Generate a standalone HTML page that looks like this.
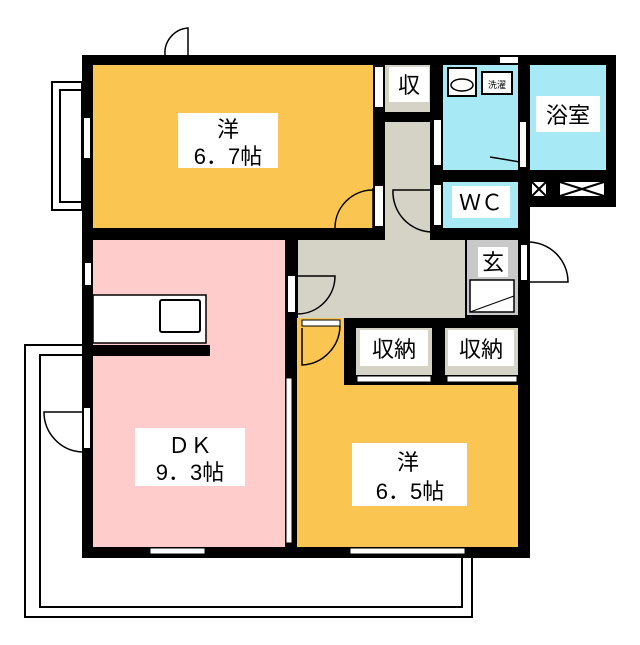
<!DOCTYPE html>
<html><head><meta charset="utf-8"><style>
html,body{margin:0;padding:0;background:#fff}
svg text{font-family:"Liberation Sans","Noto Sans CJK JP",sans-serif;fill:#000}
</style></head><body>
<svg width="640" height="640" viewBox="0 0 640 640" xmlns="http://www.w3.org/2000/svg">
<path d="M82 345 H25 V617 H472 V557" fill="none" stroke="#000" stroke-width="2"/>
<path d="M82 355 H40 V607 H462 V557" fill="none" stroke="#000" stroke-width="2"/>
<rect x="52" y="82" width="30" height="128" fill="#fff" stroke="#000" stroke-width="2"/>
<rect x="60" y="90" width="22" height="112" fill="none" stroke="#000" stroke-width="2"/>
<rect x="82" y="55" width="448" height="503" fill="#000"/>
<rect x="430" y="55" width="186" height="152" fill="#000"/>
<rect x="93" y="65" width="280" height="163" fill="#FBC552"/>
<rect x="385" y="65" width="45" height="47" fill="#D5D2C6"/>
<rect x="443" y="65" width="75" height="105" fill="#A8E9F6"/>
<rect x="530" y="65" width="76" height="105" fill="#A8E9F6"/>
<rect x="443" y="182" width="75" height="46" fill="#A8E9F6"/>
<rect x="385" y="122" width="45" height="118" fill="#D5D2C6"/>
<rect x="298" y="240" width="167" height="78" fill="#D5D2C6"/>
<rect x="467" y="240" width="51" height="75" fill="#C9C9C9"/>
<rect x="93" y="240" width="192" height="307" fill="#FFCCCC"/>
<rect x="297" y="318" width="221" height="229" fill="#FBC552"/>
<rect x="344" y="318" width="174" height="67" fill="#000"/>
<rect x="356" y="328" width="76" height="47" fill="#D5D2C6"/>
<rect x="445" y="328" width="73" height="47" fill="#D5D2C6"/>
<rect x="357" y="376" width="74" height="6" fill="#fff" stroke="#000"/>
<rect x="447" y="376" width="70" height="6" fill="#fff" stroke="#000"/>
<rect x="532" y="182" width="14" height="14" fill="#fff"/><path d="M532 182l14 14M546 182l-14 14" stroke="#000" stroke-width="2"/>
<rect x="560" y="182" width="44" height="14" fill="#fff"/><path d="M560 182l44 14M604 182l-44 14" stroke="#000" stroke-width="2"/>
<rect x="93" y="295" width="113" height="48" fill="#fff" stroke="#000" stroke-width="1.5"/>
<rect x="160" y="300" width="40" height="32" fill="#fff" stroke="#000" stroke-width="2" rx="2"/>
<rect x="93" y="345" width="117" height="11" fill="#000"/>
<rect x="84" y="118" width="6" height="40" fill="#fff"/>
<rect x="85" y="263" width="6" height="22" fill="#fff"/>
<rect x="84" y="408" width="6" height="40" fill="#fff"/>
<rect x="150" y="548" width="55" height="6" fill="#fff" stroke="#000"/>
<rect x="350" y="548" width="115" height="6" fill="#fff" stroke="#000"/>
<rect x="286" y="378" width="6" height="165" fill="#fff" stroke="#000"/>
<rect x="375" y="67" width="8" height="40" fill="#fff"/>
<rect x="375" y="186" width="8" height="40" fill="#fff"/>
<rect x="434" y="120" width="7" height="45" fill="#fff"/>
<rect x="434" y="185" width="7" height="40" fill="#fff"/>
<rect x="520" y="122" width="6" height="45" fill="#fff"/>
<rect x="500" y="57" width="18" height="6" fill="#fff"/>
<rect x="521" y="245" width="6" height="35" fill="#fff"/>
<rect x="288" y="276" width="7" height="36" fill="#fff"/>
<rect x="302" y="320" width="38" height="6" fill="#fff" stroke="#000"/>
<g fill="none" stroke="#000" stroke-width="1.5">
<path d="M188 55 V28 A25 25 0 0 0 165 55"/>
<path d="M373 188 V230 M335 228 A38 38 0 0 1 373 190"/>
<path d="M432 190 H393 A40 40 0 0 0 432 232"/>
<path d="M297 276 H335 A38 38 0 0 1 297 314"/>
<path d="M302 328 V365 A40 40 0 0 0 340 326"/>
<path d="M528 282 H568 A40 40 0 0 0 528 242"/>
<path d="M82 412 H44 A40 40 0 0 0 82 452"/>
<path d="M520 162 l-30 -5"/>
</g>
<rect x="470" y="280" width="44" height="32" fill="#fff" stroke="#000" stroke-width="1.5"/>
<path d="M470 312 L514 296" stroke="#000"/>
<rect x="448" y="68" width="28" height="28" fill="#fff" stroke="#000" stroke-width="2"/>
<ellipse cx="462" cy="85" rx="11" ry="6" fill="none" stroke="#000" stroke-width="1.5"/>
<rect x="482" y="72" width="30" height="22" fill="#fff" stroke="#000" stroke-width="2"/>
<text x="497" y="88" font-size="9" text-anchor="middle">洗濯</text>
<rect x="178" y="113" width="100" height="55" fill="#fff"/>
<text x="228" y="137" font-size="22" text-anchor="middle">洋</text>
<text x="228" y="164" font-size="22" text-anchor="middle">6．7帖</text>
<rect x="135" y="428" width="110" height="58" fill="#fff"/>
<text x="190" y="453" font-size="22" text-anchor="middle">ＤＫ</text>
<text x="190" y="480" font-size="22" text-anchor="middle">9．3帖</text>
<rect x="352" y="443" width="115" height="63" fill="#fff"/>
<text x="408" y="470" font-size="22" text-anchor="middle">洋</text>
<text x="410" y="499" font-size="22" text-anchor="middle">6．5帖</text>
<rect x="389" y="67" width="40" height="35" fill="#fff"/>
<text x="409" y="93" font-size="22" text-anchor="middle">収</text>
<rect x="536" y="96" width="64" height="36" fill="#fff"/>
<text x="568" y="123" font-size="22" text-anchor="middle">浴室</text>
<rect x="452" y="186" width="58" height="32" fill="#fff"/>
<text x="481" y="210" font-size="22" text-anchor="middle">ＷＣ</text>
<rect x="478" y="247" width="30" height="30" fill="#fff"/>
<text x="493" y="270" font-size="22" text-anchor="middle">玄</text>
<rect x="360" y="330" width="68" height="36" fill="#fff"/>
<text x="394" y="357" font-size="22" text-anchor="middle">収納</text>
<rect x="448" y="330" width="66" height="36" fill="#fff"/>
<text x="481" y="357" font-size="22" text-anchor="middle">収納</text>
</svg>
</body></html>
